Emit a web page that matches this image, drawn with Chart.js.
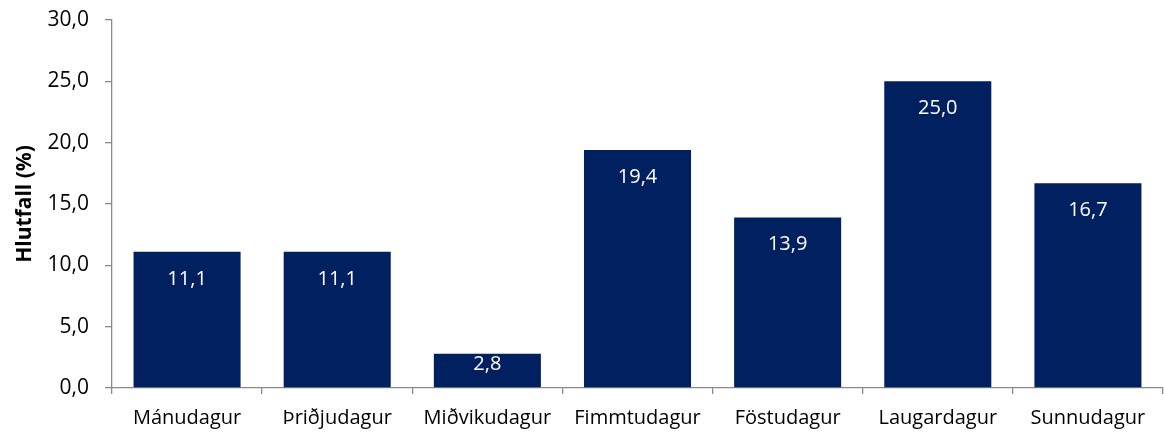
<!DOCTYPE html>
<html>
<head>
<meta charset="utf-8">
<script src="https://cdn.jsdelivr.net/npm/chart.js@4/dist/chart.umd.min.js"></script>
<style>
  html, body { margin: 0; padding: 0; background: #ffffff; }
  #wrap { width: 1164px; height: 434px; }
</style>
</head>
<body>
<div id="wrap"><canvas id="chartDagar"></canvas></div>
<script>
const dagar = ['Mánudagur', 'Þriðjudagur', 'Miðvikudagur', 'Fimmtudagur', 'Föstudagur', 'Laugardagur', 'Sunnudagur']
const hlutfall = [11.1, 11.1, 2.8, 19.4, 13.9, 25.0, 16.7]
const yMin = 0
const yMax = 30
const yStep = 5

const barColor = '#002060'
const axisColor = '#898989'
const textColor = '#000000'
const fontFamily = "'Open Sans', 'Noto Sans', sans-serif"

const komma = v => v.toFixed(1).replace('.', ',')

// white value labels inside the top of each bar
const gildiPlugin = {
    id: 'gildi',
    afterDatasetsDraw(chart) {
        const c = chart.ctx
        const meta = chart.getDatasetMeta(0)
        c.save()
        c.fillStyle = '#ffffff'
        c.font = '20px ' + fontFamily
        c.textAlign = 'center'
        c.textBaseline = 'middle'
        meta.data.forEach((bar, i) => {
            const h = bar.base - bar.y
            const off = h > 50 ? 27 : 11
            c.fillText(komma(hlutfall[i]), bar.x, bar.y + off)
        })
        c.restore()
    }
}

new Chart(document.getElementById('chartDagar'), {
    type: 'bar',
    data: {
        labels: dagar,
        datasets: [{
            data: hlutfall,
            backgroundColor: barColor,
            borderWidth: 0,
            barPercentage: 0.713,
            categoryPercentage: 1
        }]
    },
    options: {
        responsive: true,
        maintainAspectRatio: false,
        animation: false,
        layout: { padding: { top: 20, right: 1, left: 0, bottom: 0 } },
        plugins: {
            legend: { display: false },
            tooltip: { enabled: false }
        },
        scales: {
            x: {
                offset: true,
                grid: {
                    display: true,
                    drawOnChartArea: false,
                    offset: true,
                    tickLength: 6,
                    color: axisColor,
                    lineWidth: 1.3
                },
                border: { color: axisColor, width: 1.3 },
                ticks: {
                    color: textColor,
                    font: { family: fontFamily, size: 20 },
                    padding: 12,
                    maxRotation: 0
                },
                afterFit(scale) {
                    scale.height = 46
                    scale.paddingLeft = 0
                    scale.paddingRight = 0
                }
            },
            y: {
                min: yMin,
                max: yMax,
                grid: {
                    display: true,
                    drawOnChartArea: false,
                    tickLength: 7,
                    color: axisColor,
                    lineWidth: 1.3
                },
                border: { color: axisColor, width: 1.3 },
                ticks: {
                    stepSize: yStep,
                    color: textColor,
                    font: { family: fontFamily, size: 21 },
                    padding: 16,
                    callback: v => komma(v)
                },
                title: {
                    display: true,
                    text: 'Hlutfall (%)',
                    color: textColor,
                    font: { family: fontFamily, size: 21, weight: 'bold' },
                    padding: { top: 12, bottom: 0 }
                },
                afterFit(scale) {
                    scale.width = 112
                    scale.paddingTop = 0
                    scale.paddingBottom = 0
                }
            }
        }
    },
    plugins: [gildiPlugin]
})
</script>
</body>
</html>
